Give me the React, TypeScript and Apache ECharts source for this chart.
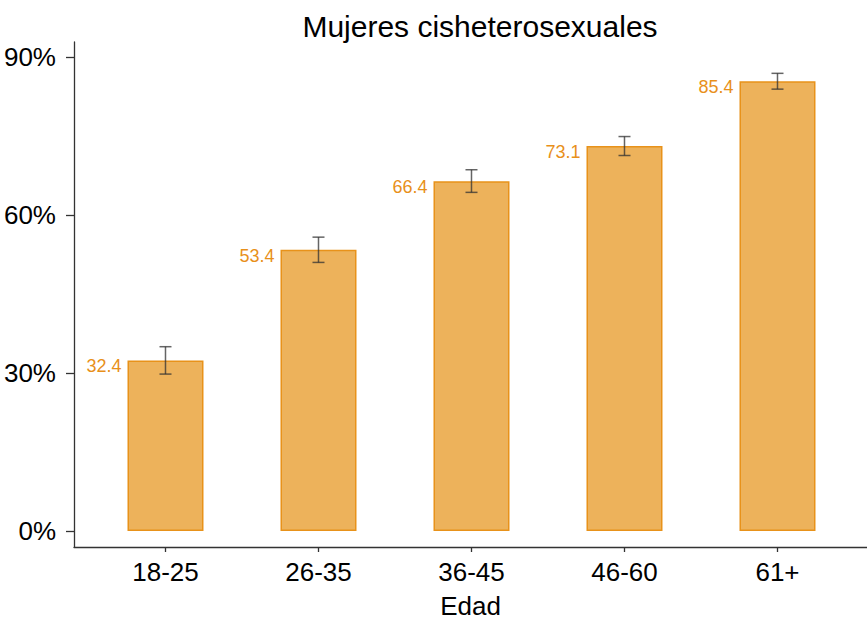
import React, { useEffect, useRef } from "react";
import * as echarts from "echarts";

const categories = ["18-25", "26-35", "36-45", "46-60", "61+"];
const values = [32.4, 53.4, 66.4, 73.1, 85.4];
const errLow = [29.8, 51.0, 64.3, 71.3, 83.9];
const errHigh = [35.0, 55.8, 68.6, 74.9, 86.9];
const yTicks = [0, 30, 60, 90];
const titleText = "Mujeres cisheterosexuales";
const xName = "Edad";

const FONT = "'Liberation Sans', Arial, Helvetica, sans-serif";

export default function App() {
  const ref = useRef<HTMLDivElement>(null);
  useEffect(() => {
    if (!ref.current) return;
    const chart = echarts.init(ref.current, null, { renderer: "svg" });
    const positions = categories.map((_, i) => i + 1);
    chart.setOption({
      animation: false,
      backgroundColor: "#ffffff",
      textStyle: { fontFamily: FONT },
      title: {
        text: titleText,
        left: 475,
        textAlign: "center",
        top: 6,
        textStyle: { fontFamily: FONT, fontSize: 30, fontWeight: "normal", color: "#000" },
      },
      grid: { left: 74, right: 0, top: 42, bottom: 76, containLabel: false },
      xAxis: {
        type: "value",
        min: 0.402,
        max: 5.585,
        name: xName,
        nameLocation: "middle",
        nameGap: 46,
        nameTextStyle: { fontFamily: FONT, fontSize: 26, color: "#000" },
        axisLine: { show: true, onZero: false, lineStyle: { color: "#333", width: 1.3 } },
        axisTick: { show: true, length: 5, customValues: positions, lineStyle: { color: "#333", width: 1.3 } },
        axisLabel: {
          customValues: positions,
          formatter: (v: number) => categories[Math.round(v) - 1] ?? "",
          fontFamily: FONT,
          fontSize: 26,
          color: "#000",
          margin: 12,
        },
        splitLine: { show: false },
      },
      yAxis: {
        type: "value",
        min: -3.03,
        max: 92.85,
        axisLine: { show: true, onZero: false, lineStyle: { color: "#333", width: 1.3 } },
        axisTick: { show: true, length: 8, customValues: yTicks, lineStyle: { color: "#333", width: 1.3 } },
        axisLabel: {
          customValues: yTicks,
          formatter: (v: number) => `${Math.round(v)}%`,
          fontFamily: FONT,
          fontSize: 26,
          color: "#000",
          margin: 18,
        },
        splitLine: { show: false },
      },
      series: [
        {
          type: "bar",
          data: values.map((v, i) => [positions[i], v]),
          barWidth: 76,
          itemStyle: { color: "#EDB25B", borderColor: "#E8921A", borderWidth: 1.5 },
          label: {
            show: true,
            position: [-6, -3],
            align: "right",
            verticalAlign: "top",
            formatter: (p: any) => p.value[1].toFixed(1),
            fontFamily: FONT,
            fontSize: 18,
            color: "#E8901A",
          },
        },
        {
          type: "custom",
          data: positions.map((p, i) => [p, errLow[i], errHigh[i]]),
          z: 10,
          renderItem: (params: any, api: any) => {
            const x = api.value(0);
            const lo = api.coord([x, api.value(1)]);
            const hi = api.coord([x, api.value(2)]);
            const hw = 6;
            const style = { stroke: "rgba(50,50,50,0.75)", lineWidth: 1.5 };
            return {
              type: "group",
              children: [
                { type: "line", shape: { x1: lo[0], y1: lo[1], x2: hi[0], y2: hi[1] }, style },
                { type: "line", shape: { x1: lo[0] - hw, y1: lo[1], x2: lo[0] + hw, y2: lo[1] }, style },
                { type: "line", shape: { x1: hi[0] - hw, y1: hi[1], x2: hi[0] + hw, y2: hi[1] }, style },
              ],
            };
          },
        },
      ],
    });
    return () => chart.dispose();
  }, []);
  return (
    <div
      ref={ref}
      style={{ position: "fixed", left: 0, top: 0, width: 867, height: 624, background: "#fff" }}
    />
  );
}
